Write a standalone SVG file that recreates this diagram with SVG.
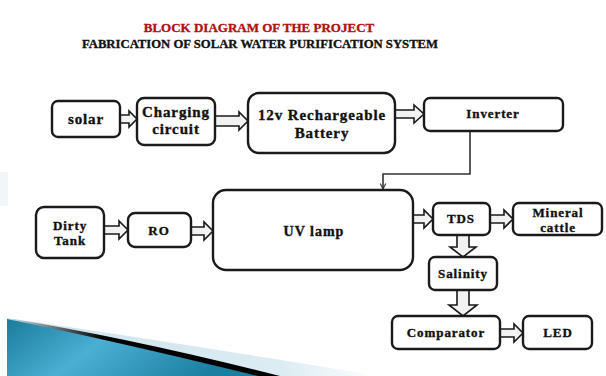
<svg xmlns="http://www.w3.org/2000/svg" width="606" height="376" viewBox="0 0 606 376">
<style>
.box{fill:#fff;stroke:#1a1a1a;stroke-width:2.4}
.t{font-family:"Liberation Serif","Times New Roman",serif;font-weight:bold;fill:#111;text-anchor:middle;stroke:#111;stroke-width:0.35}
.big{font-size:15px;letter-spacing:0.9px}
.sm{font-size:13px;letter-spacing:0.9px}
.arr{fill:#f2f2f2;stroke:#1a1a1a;stroke-width:1.6;stroke-linejoin:miter}
.ln{fill:none;stroke:#333;stroke-width:1.6}
</style>
<defs>
<marker id="hd" viewBox="0 0 10 10" refX="9" refY="5" markerWidth="7" markerHeight="7" orient="auto" markerUnits="userSpaceOnUse">
<path d="M1,1 L9,5 L1,9" fill="none" stroke="#333" stroke-width="1.6"/>
</marker>
<linearGradient id="blue" x1="0" y1="0" x2="1" y2="0.3">
<stop offset="0" stop-color="#1a7c9c"/>
<stop offset="0.45" stop-color="#4aafd3"/>
<stop offset="1" stop-color="#1a7fa0"/>
</linearGradient>
<linearGradient id="blk" x1="7" y1="0" x2="200" y2="0" gradientUnits="userSpaceOnUse">
<stop offset="0" stop-color="#000" stop-opacity="0"/>
<stop offset="0.5" stop-color="#000" stop-opacity="1"/>
</linearGradient>
<linearGradient id="lt" x1="60" y1="0" x2="380" y2="0" gradientUnits="userSpaceOnUse">
<stop offset="0" stop-color="#cfe5ee"/>
<stop offset="0.7" stop-color="#dcecf3"/>
<stop offset="1" stop-color="#ffffff"/>
</linearGradient>
</defs>
<rect width="606" height="376" fill="#fff"/>
<g id="decor">
<rect x="0" y="172" width="8" height="34" fill="#c9dbe6" opacity="0.25"/>
<path d="M7,318 Q160,340 380,376 L7,376 Z" fill="url(#lt)"/>
<path d="M7,318 Q130,338 280,376 L7,376 Z" fill="url(#blk)"/>
<path d="M7,319 Q110,340 258,376 L7,376 Z" fill="url(#blue)"/>
</g>
<g id="title">
<text class="t" x="259" y="32" font-size="13" style="fill:#b01212;stroke:#b01212">BLOCK DIAGRAM OF THE PROJECT</text>
<text class="t" x="260" y="48" font-size="12.7">FABRICATION OF SOLAR WATER PURIFICATION SYSTEM</text>
</g>
<g id="connectors">
<polygon class="arr" points="120,115 129,115 129,111 137,119 129,127 129,123 120,123"/>
<polygon class="arr" points="215,116 239,116 239,112 248,121 239,130 239,126 215,126"/>
<polygon class="arr" points="395,110 414,110 414,105 424,114 414,123 414,118 395,118"/>
<polygon class="arr" points="104,226 119,226 119,221 128,230 119,239 119,234 104,234"/>
<polygon class="arr" points="191,227 204,227 204,222 213,231 204,240 204,235 191,235"/>
<polygon class="arr" points="413,215 424,215 424,210 433,219 424,228 424,223 413,223"/>
<polygon class="arr" points="490,215 504,215 504,210 513,219 504,228 504,223 490,223"/>
<polygon class="arr" points="457,235 469,235 469,247 476,247 463,257 450,247 457,247"/>
<polygon class="arr" points="457,290 469,290 469,305 477,305 463,316 449,305 457,305"/>
<polygon class="arr" points="500,329 514,329 514,324 523,333 514,342 514,337 500,337"/>
<path class="ln" d="M470,131 V174 H383 V189" marker-end="url(#hd)"/>
</g>
<g id="solar">
<rect class="box" x="52" y="101" width="68" height="36" rx="6"/>
<text class="t big" x="86" y="124">solar</text>
</g>
<g id="charging">
<rect class="box" x="137" y="98" width="78" height="47" rx="7"/>
<text class="t big" x="176" y="117">Charging</text>
<text class="t big" x="176" y="134">circuit</text>
</g>
<g id="battery">
<rect class="box" x="248" y="93" width="147" height="60" rx="11"/>
<text class="t big" x="322" y="120">12v Rechargeable</text>
<text class="t big" x="322" y="138">Battery</text>
</g>
<g id="inverter">
<rect class="box" x="424" y="98" width="139" height="33" rx="6"/>
<text class="t sm" x="493" y="118">Inverter</text>
</g>
<g id="dirty">
<rect class="box" x="36" y="207" width="68" height="51" rx="8"/>
<text class="t sm" x="70" y="230">Dirty</text>
<text class="t sm" x="70" y="245">Tank</text>
</g>
<g id="ro">
<rect class="box" x="128" y="213" width="63" height="34" rx="7"/>
<text class="t sm" x="159" y="235">RO</text>
</g>
<g id="uv">
<rect class="box" x="213" y="190" width="200" height="80" rx="13"/>
<text class="t" x="314" y="236" font-size="14" letter-spacing="1">UV lamp</text>
</g>
<g id="tds">
<rect class="box" x="433" y="203" width="57" height="32" rx="6"/>
<text class="t sm" x="461" y="223">TDS</text>
</g>
<g id="mineral">
<rect class="box" x="513" y="203" width="89" height="32" rx="6"/>
<text class="t sm" x="558" y="217">Mineral</text>
<text class="t sm" x="558" y="232">cattle</text>
</g>
<g id="salinity">
<rect class="box" x="429" y="257" width="68" height="33" rx="6"/>
<text class="t sm" x="463" y="278">Salinity</text>
</g>
<g id="comparator">
<rect class="box" x="392" y="316" width="108" height="33" rx="6"/>
<text class="t sm" x="446" y="337">Comparator</text>
</g>
<g id="led">
<rect class="box" x="523" y="316" width="69" height="33" rx="6"/>
<text class="t sm" x="558" y="337">LED</text>
</g>
</svg>
